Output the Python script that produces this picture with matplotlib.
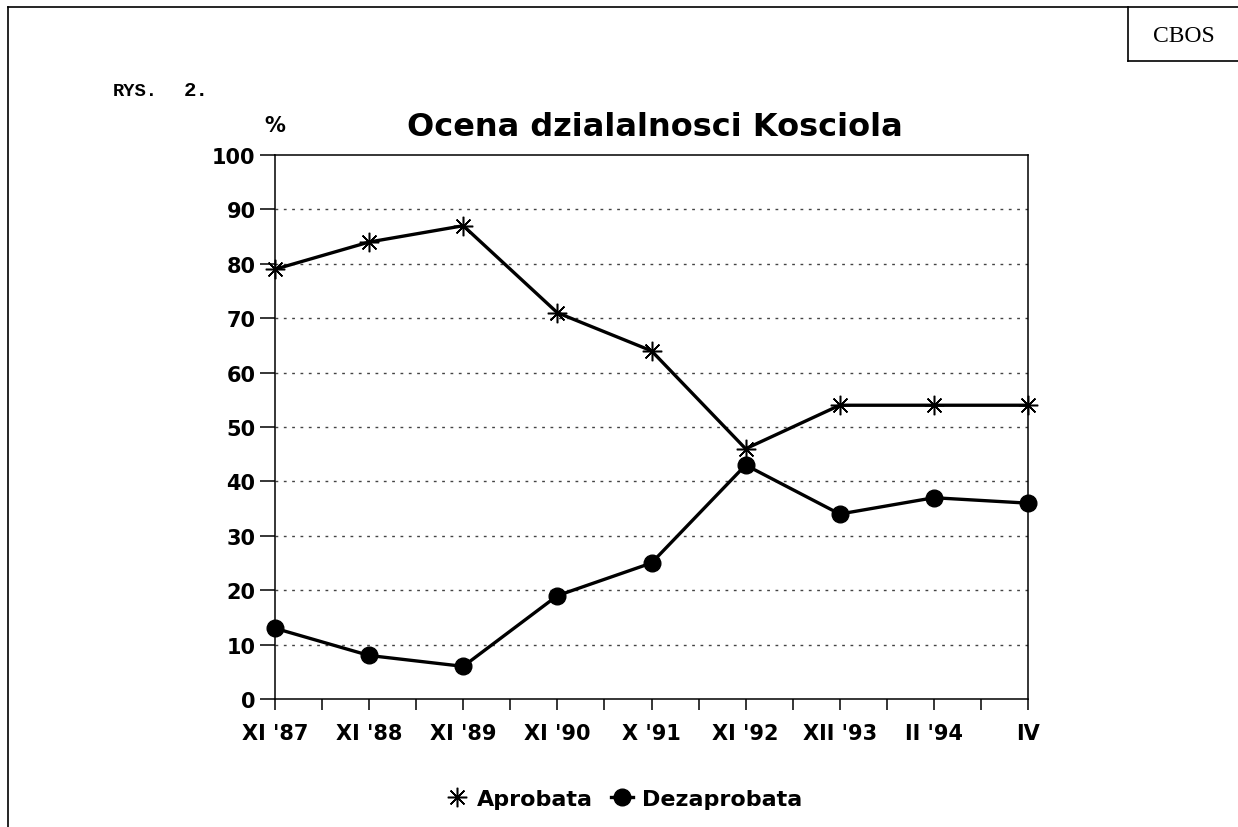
import matplotlib
matplotlib.use('Agg')
import matplotlib.pyplot as plt
from matplotlib.lines import Line2D

# data
periods = ["XI '87", "XI '88", "XI '89", "XI '90", "X '91", "XI '92", "XII '93", "II '94", "IV"]
aprobata = [79, 84, 87, 71, 64, 46, 54, 54, 54]
dezaprobata = [13, 8, 6, 19, 25, 43, 34, 37, 36]
y_ticks = [0, 10, 20, 30, 40, 50, 60, 70, 80, 90, 100]

sans = 'DejaVu Sans'
mono = 'Liberation Mono'

fig = plt.figure(figsize=(12.38, 8.28), dpi=100)
ax = fig.add_axes([275 / 1238, 1 - 700 / 828, (1028 - 275) / 1238, (700 - 156) / 828])

x = list(range(len(periods)))
star = (8, 2, 0)
ax.plot(x, aprobata, color='black', linewidth=2.4, marker=star, markersize=14,
        markeredgewidth=1.1, clip_on=False, zorder=3)
ax.plot(x, dezaprobata, color='black', linewidth=2.4, marker='o', markersize=12,
        clip_on=False, zorder=3)

ax.set_xlim(0, len(periods) - 1)
ax.set_ylim(0, 100)
ax.set_xticks(x)
ax.set_xticks([i + 0.5 for i in x[:-1]], minor=True)
ax.set_xticklabels(periods, fontfamily=sans, fontweight='bold', fontsize=15)
ax.set_yticks(y_ticks)
ax.set_yticklabels([str(v) for v in y_ticks], fontfamily=sans, fontweight='bold', fontsize=15)
ax.tick_params(axis='x', which='both', direction='out', length=8, width=1.1, pad=9)
ax.tick_params(axis='y', direction='out', length=11, width=1.1, pad=3)
for v in y_ticks[1:-1]:
    ax.axhline(v, color='#444444', linewidth=1, linestyle=(0, (2, 4)), zorder=1)
for s in ax.spines.values():
    s.set_linewidth(1.1)

fig.text(275 / 1238, 1 - 126 / 828, '%', fontfamily=sans, fontweight='bold', fontsize=15,
         ha='center', va='center')
fig.text(655 / 1238, 1 - 127 / 828, 'Ocena dzialalnosci Kosciola', fontfamily=sans,
         fontweight='bold', fontsize=23, ha='center', va='center')
fig.text(113 / 1238, 1 - 92 / 828, 'RYS.', fontfamily=mono, fontweight='bold', fontsize=13.5,
         ha='left', va='center')
fig.text(184 / 1238, 1 - 91 / 828, '2.', fontfamily=mono, fontweight='bold', fontsize=15,
         ha='left', va='center')
fig.text(1184 / 1238, 1 - 37 / 828, 'CBOS', fontfamily='Liberation Serif', fontsize=17,
         ha='center', va='center')

# page frame and CBOS box
frame = dict(color='black', linewidth=1.2, transform=fig.transFigure)
fig.add_artist(Line2D([8 / 1238, 1], [1 - 8 / 828, 1 - 8 / 828], **frame))
fig.add_artist(Line2D([8 / 1238, 8 / 1238], [0, 1 - 8 / 828], **frame))
fig.add_artist(Line2D([1128 / 1238, 1128 / 1238], [1 - 8 / 828, 1 - 62 / 828], **frame))
fig.add_artist(Line2D([1128 / 1238, 1], [1 - 62 / 828, 1 - 62 / 828], **frame))

handles = [
    Line2D([], [], color='black', linestyle='none', marker=star, markersize=14, markeredgewidth=1.1),
    Line2D([], [], color='black', linewidth=2.4, marker='o', markersize=12),
]
fig.legend(handles, ['Aprobata', 'Dezaprobata'], loc='center', ncol=2,
           bbox_to_anchor=(624 / 1238, 1 - 800 / 828), frameon=False, handlelength=1.0,
           handletextpad=0.4, columnspacing=0.8,
           prop={'family': sans, 'weight': 'bold', 'size': 16})

fig.savefig('out.png', dpi=100)
